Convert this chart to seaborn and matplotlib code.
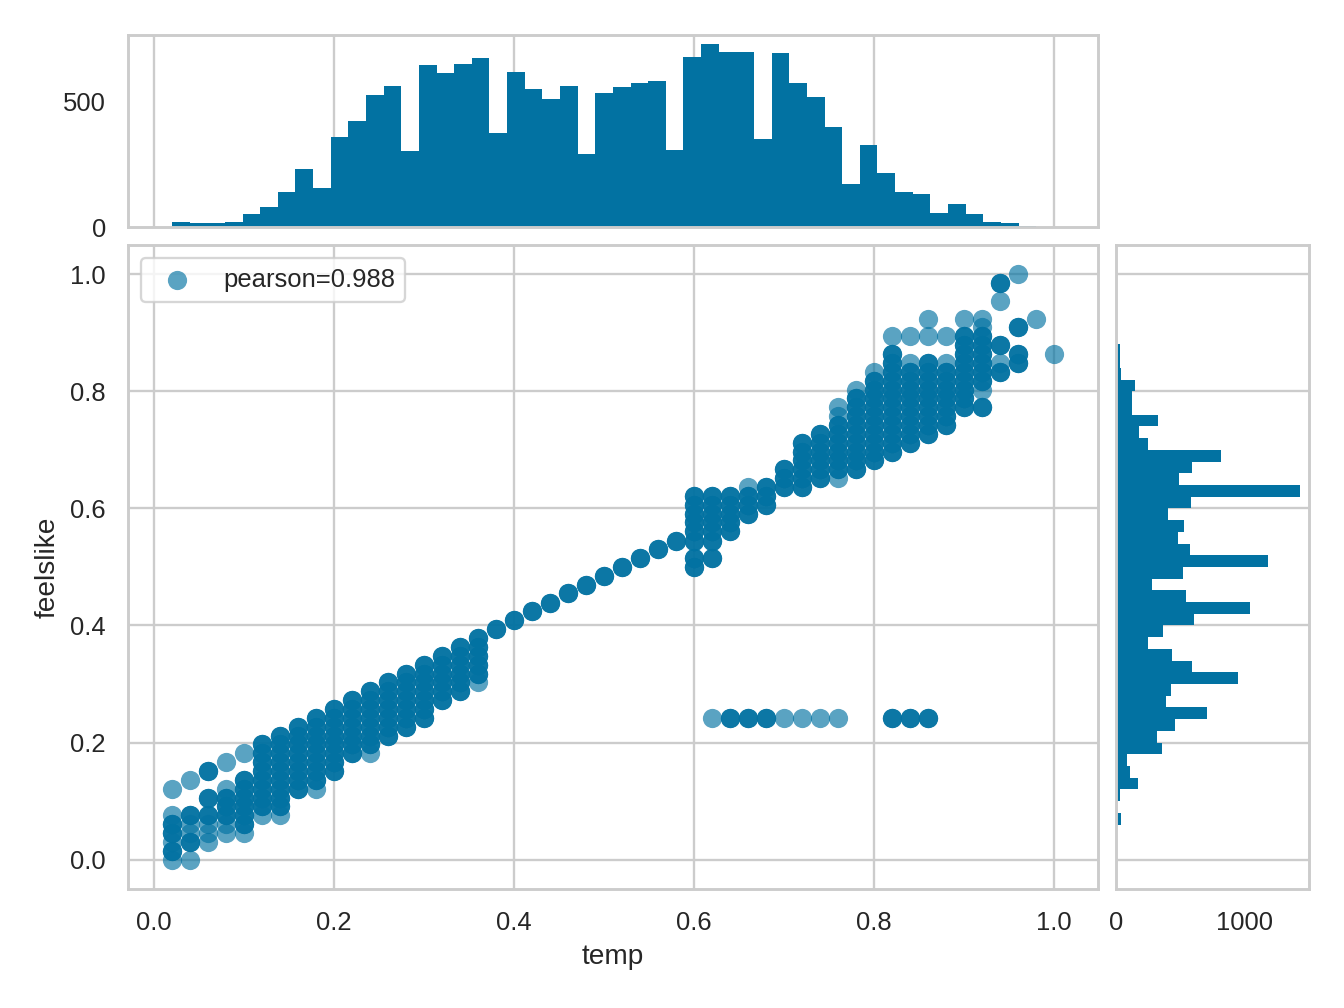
import numpy as np
import pandas as pd
import matplotlib
matplotlib.use("Agg")
import matplotlib.pyplot as plt
import seaborn as sns

BLUE = "#0272a2"

# marginal histogram counts (50 bins each)
TEMP_RANGE = (0.02, 1.0)
TEMP_COUNTS = [20, 16, 16, 20, 52, 79, 139, 230, 155, 357,
               422, 524, 560, 302, 643, 611, 647, 671, 373, 615,
               548, 508, 560, 290, 532, 556, 571, 579, 306, 675,
               726, 694, 694, 349, 690, 571, 516, 397, 171, 325,
               214, 139, 131, 56, 91, 52, 20, 16, 2, 1]

FEELS_RANGE = (0.0, 1.0)
FEELS_COUNTS = [3, 2, 4, 35, 0, 28, 169, 106, 83, 358,
                319, 461, 705, 390, 429, 949, 594, 437, 248, 366,
                603, 1044, 547, 280, 524, 1185, 571, 484, 531, 405,
                579, 1429, 492, 587, 815, 248, 177, 327, 122, 122,
                146, 35, 28, 28, 4, 3, 2, 3, 2, 2]

# scatter: readings seen many times (dark spots), grouped by temp
DENSE_TEMP = [0.02, 0.04, 0.06, 0.08, 0.10, 0.12, 0.14, 0.16, 0.18, 0.20,
              0.22, 0.24, 0.26, 0.28, 0.30, 0.32, 0.34, 0.36, 0.38, 0.40,
              0.42, 0.44, 0.46, 0.48, 0.50, 0.52, 0.54, 0.56, 0.58, 0.60,
              0.62, 0.64, 0.66, 0.68, 0.70, 0.72, 0.74, 0.76, 0.78, 0.80,
              0.82, 0.84, 0.86, 0.88, 0.90, 0.92, 0.94, 0.96]
DENSE_FEELS = [
    [0.015, 0.045, 0.061],
    [0.030, 0.076],
    [0.076, 0.106, 0.152],
    [0.076, 0.091, 0.106],
    [0.061, 0.076, 0.091, 0.106, 0.121, 0.136],
    [0.091, 0.106, 0.121, 0.136, 0.152, 0.167, 0.182, 0.197],
    [0.091, 0.106, 0.121, 0.136, 0.152, 0.167, 0.182, 0.197, 0.212],
    [0.121, 0.136, 0.152, 0.167, 0.182, 0.197, 0.212, 0.227],
    [0.136, 0.152, 0.167, 0.182, 0.197, 0.212, 0.227, 0.242],
    [0.152, 0.167, 0.182, 0.197, 0.212, 0.227, 0.242, 0.258],
    [0.182, 0.197, 0.212, 0.227, 0.242, 0.258, 0.273],
    [0.197, 0.212, 0.227, 0.242, 0.258, 0.273, 0.288],
    [0.212, 0.227, 0.242, 0.258, 0.273, 0.288, 0.303],
    [0.227, 0.242, 0.258, 0.273, 0.288, 0.303, 0.318],
    [0.242, 0.258, 0.273, 0.288, 0.303, 0.318, 0.333],
    [0.273, 0.288, 0.303, 0.318, 0.333, 0.348],
    [0.288, 0.303, 0.318, 0.333, 0.348, 0.364],
    [0.318, 0.333, 0.348, 0.364, 0.379],
    [0.394],
    [0.409],
    [0.424],
    [0.439],
    [0.455],
    [0.470],
    [0.485],
    [0.500],
    [0.515],
    [0.530],
    [0.545],
    [0.500, 0.515, 0.545, 0.561, 0.576, 0.591, 0.606, 0.621],
    [0.515, 0.545, 0.561, 0.576, 0.591, 0.606, 0.621],
    [0.242, 0.561, 0.576, 0.591, 0.606, 0.621],
    [0.242, 0.591, 0.606, 0.621],
    [0.242, 0.606, 0.621, 0.636],
    [0.636, 0.652, 0.667],
    [0.636, 0.652, 0.667, 0.682, 0.697, 0.712],
    [0.652, 0.667, 0.682, 0.697, 0.712, 0.727],
    [0.667, 0.682, 0.697, 0.712, 0.727, 0.742],
    [0.667, 0.682, 0.697, 0.712, 0.727, 0.742, 0.758, 0.773, 0.788],
    [0.682, 0.697, 0.712, 0.727, 0.742, 0.758, 0.773, 0.788, 0.803, 0.818],
    [0.242, 0.697, 0.712, 0.727, 0.742, 0.758, 0.773, 0.788, 0.803, 0.818,
     0.833, 0.848, 0.864],
    [0.242, 0.712, 0.727, 0.742, 0.758, 0.773, 0.788, 0.803, 0.818, 0.833],
    [0.242, 0.727, 0.742, 0.758, 0.773, 0.788, 0.803, 0.818, 0.833, 0.848],
    [0.742, 0.758, 0.773, 0.788, 0.803, 0.818, 0.833],
    [0.773, 0.788, 0.803, 0.818, 0.833, 0.848, 0.864, 0.879, 0.894],
    [0.773, 0.818, 0.833, 0.848, 0.864, 0.879, 0.894],
    [0.833, 0.879, 0.985],
    [0.848, 0.864, 0.909],
]
DENSE_REPEAT = 3  # dark spots: several hours at the same reading

# scatter: single observations (light spots)
SINGLE_TEMP = [0.02, 0.02, 0.02, 0.02, 0.04, 0.04, 0.04, 0.04, 0.06, 0.06,
               0.06, 0.08, 0.08, 0.08, 0.08, 0.10, 0.10, 0.12, 0.14, 0.18,
               0.24, 0.36, 0.62, 0.66, 0.70, 0.72, 0.74, 0.76, 0.76, 0.76,
               0.76, 0.78, 0.80, 0.82, 0.84, 0.84, 0.86, 0.86, 0.88, 0.88,
               0.90, 0.92, 0.92, 0.92, 0.94, 0.94, 0.96, 0.98, 1.00]
SINGLE_FEELS = [0.000, 0.030, 0.076, 0.121, 0.000, 0.045, 0.061, 0.136, 0.030, 0.045,
                0.061, 0.045, 0.061, 0.121, 0.167, 0.045, 0.182, 0.076, 0.076, 0.121,
                0.182, 0.303, 0.242, 0.636, 0.242, 0.242, 0.242, 0.242, 0.652, 0.758,
                0.773, 0.803, 0.833, 0.894, 0.848, 0.894, 0.894, 0.924, 0.848, 0.894,
                0.924, 0.803, 0.909, 0.924, 0.848, 0.955, 1.000, 0.924, 0.864]

PEARSON = 0.988


def build_points():
    xs, ys = [], []
    for t, col in zip(DENSE_TEMP, DENSE_FEELS):
        for f in col:
            xs += [t] * DENSE_REPEAT
            ys += [f] * DENSE_REPEAT
    xs += SINGLE_TEMP
    ys += SINGLE_FEELS
    return pd.DataFrame({"temp": xs, "feelslike": ys})


def binned(rng, counts, name):
    edges = np.linspace(rng[0], rng[1], len(counts) + 1)
    mids = (edges[:-1] + edges[1:]) / 2
    return pd.DataFrame({name: mids, "n": counts})


def main():
    sns.set_theme(style="whitegrid", context="notebook")
    plt.rcParams["font.family"] = ["Liberation Sans", "DejaVu Sans"]

    fig = plt.figure(figsize=(8, 6), dpi=168)
    ax = fig.add_axes([0.0952, 0.1181, 0.7217, 0.6389])
    ax_top = fig.add_axes([0.0952, 0.7748, 0.7217, 0.1905], sharex=ax)
    ax_right = fig.add_axes([0.8304, 0.1181, 0.1436, 0.6389], sharey=ax)

    points = build_points()
    sns.scatterplot(data=points, x="temp", y="feelslike", ax=ax, color=BLUE,
                    alpha=0.65, s=68, linewidth=0,
                    label="pearson={:0.3f}".format(PEARSON))
    ax.legend(loc="upper left")
    ax.set_xlabel("temp")
    ax.set_ylabel("feelslike")

    top_df = binned(TEMP_RANGE, TEMP_COUNTS, "temp")
    sns.histplot(data=top_df, x="temp", weights="n", bins=len(TEMP_COUNTS),
                 binrange=TEMP_RANGE, ax=ax_top, color=BLUE, alpha=1, linewidth=0)
    right_df = binned(FEELS_RANGE, FEELS_COUNTS, "feelslike")
    sns.histplot(data=right_df, y="feelslike", weights="n", bins=len(FEELS_COUNTS),
                 binrange=FEELS_RANGE, ax=ax_right, color=BLUE, alpha=1, linewidth=0)

    ax_top.set_xlabel("")
    ax_top.set_ylabel("")
    ax_right.set_xlabel("")
    ax_right.set_ylabel("")
    ax_top.tick_params(labelbottom=False)
    ax_right.tick_params(labelleft=False)
    ax_top.grid(False, axis="y")
    ax_right.grid(False, axis="x")

    ax.set_xlim(-0.029, 1.049)
    ax.set_ylim(-0.05, 1.05)

    fig.savefig("out.png", dpi=168)


if __name__ == "__main__":
    main()
